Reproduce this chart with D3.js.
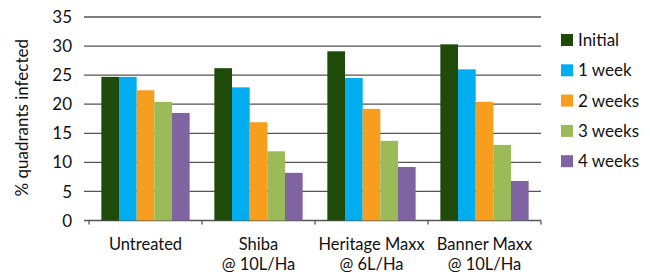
<!DOCTYPE html>
<html>
<head>
<meta charset="utf-8">
<script src="https://cdn.jsdelivr.net/npm/d3@7"></script>
<style>
  body { margin: 0; background: #fff; }
  text { font-family: Lato, "Open Sans", sans-serif; fill: #111; }
</style>
</head>
<body>
<div class="chart"></div>
<script>
// Data
const categories = [["Untreated"], ["Shiba", "@ 10L/Ha"], ["Heritage Maxx", "@ 6L/Ha"], ["Banner Maxx", "@ 10L/Ha"]];
const seriesNames = ["Initial", "1 week", "2 weeks", "3 weeks", "4 weeks"];
const initial = [24.7, 26.2, 29.1, 30.3];
const week1 = [24.7, 22.9, 24.5, 26.0];
const week2 = [22.4, 16.9, 19.2, 20.4];
const week3 = [20.4, 11.9, 13.7, 13.0];
const week4 = [18.5, 8.2, 9.2, 6.8];
const yTicks = [0, 5, 10, 15, 20, 25, 30, 35];

const colors = ["#1e4a0a", "#00aeef", "#f79e1e", "#9bbb59", "#8064a2"];
const series = [initial, week1, week2, week3, week4];

const W = 650, H = 274;
const margin = {top: 17, right: 109, bottom: 53.5, left: 89};
const w = W - margin.left - margin.right;
const h = H - margin.top - margin.bottom;

const svg = d3.select(".chart")
    .append("svg")
        .attr("width", W)
        .attr("height", H)
    .append("g")
        .attr("transform", "translate(" + margin.left + "," + margin.top + ")");

const x = d3.scaleBand()
    .domain(d3.range(categories.length))
    .range([0, w]);

const xInner = d3.scaleBand()
    .domain(d3.range(seriesNames.length))
    .range([0, x.bandwidth()])
    .paddingOuter(0.7);

const y = d3.scaleLinear()
    .domain([0, 35])
    .range([h, 0]);

// Gridlines
svg.selectAll(".grid")
    .data(yTicks)
    .enter()
    .append("line")
        .attr("x1", -5)
        .attr("x2", w)
        .attr("y1", d => y(d))
        .attr("y2", d => y(d))
        .attr("stroke", "#555")
        .attr("stroke-width", 1.3);

// Y axis labels
svg.selectAll(".ylab")
    .data(yTicks)
    .enter()
    .append("text")
        .attr("x", -17)
        .attr("y", d => y(d))
        .attr("dy", "0.36em")
        .attr("text-anchor", "end")
        .style("font-size", "17px")
        .text(d => d);

// Bars
series.forEach((vals, si) => {
    svg.selectAll(".bar" + si)
        .data(vals)
        .enter()
        .append("rect")
            .attr("x", (d, i) => x(i) + xInner(si))
            .attr("y", d => y(d))
            .attr("width", xInner.bandwidth())
            .attr("height", d => h - y(d))
            .attr("fill", colors[si]);
});

// Category tick marks
svg.selectAll(".xtick")
    .data(d3.range(categories.length + 1))
    .enter()
    .append("line")
        .attr("x1", d => d * x.step())
        .attr("x2", d => d * x.step())
        .attr("y1", h)
        .attr("y2", h + 4)
        .attr("stroke", "#555")
        .attr("stroke-width", 1.3);

// Category labels, one text per line
categories.forEach((lines, i) => {
    lines.forEach((line, li) => {
        svg.append("text")
            .attr("x", x(i) + x.bandwidth() / 2)
            .attr("y", h + 29 + li * 20)
            .attr("text-anchor", "middle")
            .style("font-size", "16.5px")
            .text(line);
    });
});

// Y axis title
svg.append("text")
    .attr("transform", "rotate(-90)")
    .attr("x", -(h / 2) + 1)
    .attr("y", -61)
    .attr("text-anchor", "middle")
    .style("font-size", "17px")
    .text("% quadrants infected");

// Legend
const legend = svg.selectAll(".legend")
    .data(seriesNames)
    .enter()
    .append("g")
        .attr("transform", (d, i) => "translate(" + (w + 20) + "," + (23 + i * 30.3) + ")");
legend.append("rect")
    .attr("x", 0)
    .attr("y", -6)
    .attr("width", 12)
    .attr("height", 12)
    .attr("fill", (d, i) => colors[i]);
legend.append("text")
    .attr("x", 17)
    .attr("dy", "0.36em")
    .style("font-size", "17px")
    .text(d => d);
</script>
</body>
</html>
